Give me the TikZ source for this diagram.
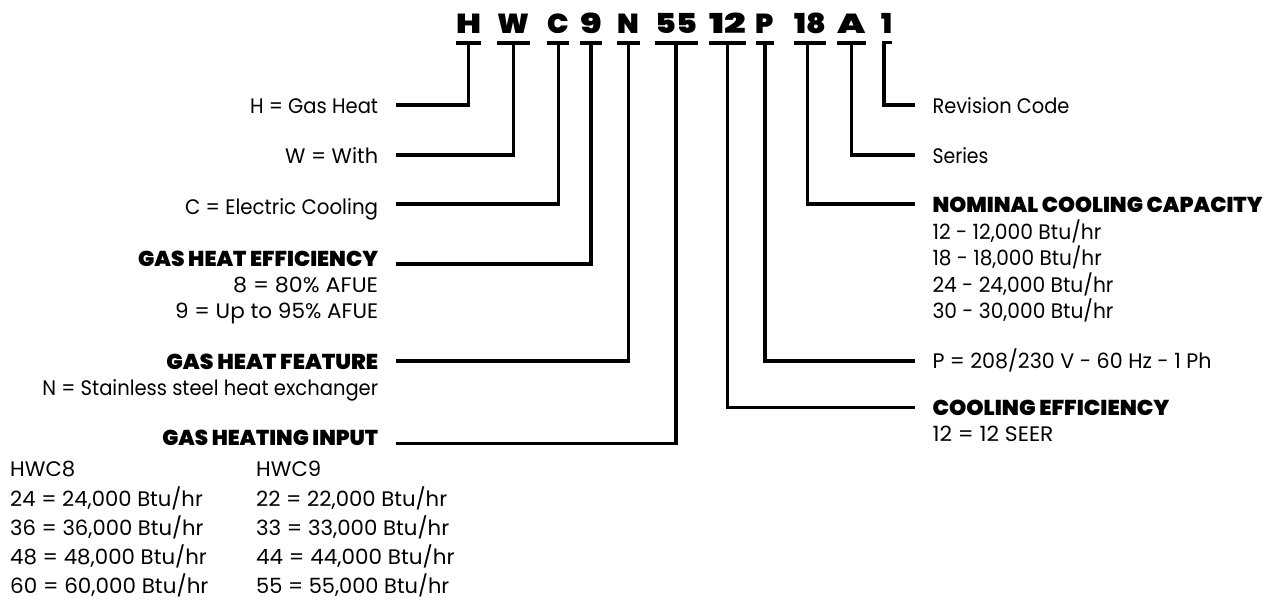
\documentclass[tikz,border=0pt]{standalone}
\usepackage{fontspec}
\usepackage{graphicx}
\setmainfont{Poppins}[Numbers=Proportional]
\IfFontExistsTF{Poppins Black}
  {\newfontfamily\blkfont{Poppins Black}[Numbers=Proportional]}
  {\IfFontExistsTF{Poppins ExtraBold}
    {\newfontfamily\blkfont{Poppins ExtraBold}[Numbers=Proportional]}
    {\newfontfamily\blkfontX{Poppins}[Numbers=Proportional]\newcommand\blkfont{\blkfontX\bfseries}}}
\newsavebox\fitbox
\newcommand\fitto[2]{\sbox\fitbox{#2}\pgfmathsetmacro\fitfac{#1/\the\wd\fitbox}\scalebox{\fitfac}[1]{\usebox\fitbox}}
\tikzset{
  reg/.style={inner sep=0pt, font=\fontsize{21}{25}\selectfont},
  ttl/.style={inner sep=0pt, font=\blkfont\fontsize{21.5}{25}\selectfont},
  code/.style={inner sep=0pt, anchor=base, font=\blkfont\fontsize{27.5}{30}\selectfont},
  conn/.style={line width=3.3pt, draw=black},
  bar/.style={line width=3.5pt, draw=black},
  lft/.style={anchor=base east},
  rgt/.style={anchor=base west}
}
\begin{document}
\begin{tikzpicture}[x=1pt,y=-1pt]
\useasboundingbox (0,0) rectangle (1273,601);
\fill[white] (0,0) rectangle (1273,601);

% code letters
\node[code] (cH) at (468.5,33.3) {\fitto{25}{H}};
\node[code] (cW) at (513.3,33.3) {\fitto{32}{W}};
\node[code] (cC) at (558,33.3) {\fitto{21.5}{C}};
\node[code] (c9) at (591,33.3) {\fitto{21.5}{9}};
\node[code] (cN) at (628.5,33.3) {\fitto{21.7}{N}};
\node[code] (c55) at (676.5,33.3) {\fitto{41.7}{55}};
\node[code] (c12) at (727.5,33.3) {\fitto{36.7}{12}};
\node[code] (cP) at (765,33.3) {\fitto{18.3}{P}};
\node[code] (c18) at (810,33.3) {\fitto{31.7}{18}};
\node[code] (cA) at (851.7,33.3) {\fitto{28.3}{A}};
\node[code] (c1) at (887,33.3) {\fitto{11}{1}};

\foreach \n in {cH,cW,cC,c9,cN,c55,c12,cP,c18,cA}
  \draw[bar] ([yshift=-9.4pt]\n.south west) -- ([yshift=-9.4pt]\n.south east);
\coordinate (b1a) at (882,42.7);
\coordinate (b1b) at (892,42.7);
\draw[bar] (b1a) -- (b1b);

% connector coordinates
\coordinate (vH) at (468.3,42.7);  \coordinate (eH) at (396,105);
\coordinate (vW) at (513.3,42.7);  \coordinate (eW) at (396,155);
\coordinate (vC) at (558.3,42.7);  \coordinate (eC) at (396,204);
\coordinate (v9) at (591,42.7);    \coordinate (e9) at (396,264);
\coordinate (vN) at (628.3,42.7);  \coordinate (eN) at (396,361);
\coordinate (v55) at (676,42.7);   \coordinate (e55) at (396,443.3);
\coordinate (v1) at (884,42.7);    \coordinate (e1) at (915,105);
\coordinate (vA) at (851.7,42.7);  \coordinate (eA) at (915,155);
\coordinate (v18) at (807.5,42.7); \coordinate (e18) at (915,204);
\coordinate (vP) at (765,42.7);    \coordinate (eP) at (915,361);
\coordinate (v12) at (727.7,42.7); \coordinate (e12) at (915,407.7);

\foreach \k in {H,W,C,9,N,55,1,A,18,P,12}
  \draw[conn] (v\k) |- (e\k);

% left labels
\node[reg,lft] (lH) at (378.3,113.3) {\fitto{128}{H = Gas Heat}};
\node[reg,lft] (lW) at (378.3,163.3) {\fitto{93}{W = With}};
\node[reg,lft] (lC) at (378.3,215) {\fitto{193}{C = Electric Cooling}};
\node[ttl,lft] (l9) at (378.3,267) {\fitto{240}{GAS HEAT EFFICIENCY}};
\node[reg,lft] (l9a) at (378.3,293) {\fitto{145}{8 = 80\% AFUE}};
\node[reg,lft] (l9b) at (378.3,318) {\fitto{203}{9 = Up to 95\% AFUE}};
\node[ttl,lft] (lN) at (378.3,369) {\fitto{211.7}{GAS HEAT FEATURE}};
\node[reg,lft] (lNa) at (378.3,395) {\fitto{335.7}{N = Stainless steel heat exchanger}};
\node[ttl,lft] (l55) at (378.3,445.5) {\fitto{215.7}{GAS HEATING INPUT}};

% table
\node[reg,rgt] (t8) at (10,476.7) {\fitto{65}{HWC8}};
\node[reg,rgt] (t8a) at (10,506.7) {\fitto{192.7}{24 = 24,000 Btu/hr}};
\node[reg,rgt] (t8b) at (10,535) {\fitto{193.3}{36 = 36,000 Btu/hr}};
\node[reg,rgt] (t8c) at (10,564) {\fitto{196.7}{48 = 48,000 Btu/hr}};
\node[reg,rgt] (t8d) at (10,593) {\fitto{198.3}{60 = 60,000 Btu/hr}};
\node[reg,rgt] (t9) at (256,476.7) {\fitto{65}{HWC9}};
\node[reg,rgt] (t9a) at (256,506.7) {\fitto{191}{22 = 22,000 Btu/hr}};
\node[reg,rgt] (t9b) at (256,535) {\fitto{193}{33 = 33,000 Btu/hr}};
\node[reg,rgt] (t9c) at (256,564) {\fitto{198.5}{44 = 44,000 Btu/hr}};
\node[reg,rgt] (t9d) at (256,593) {\fitto{193}{55 = 55,000 Btu/hr}};

% right labels
\node[reg,rgt] (rR) at (932.3,113.3) {\fitto{137}{Revision Code}};
\node[reg,rgt] (rA) at (932.3,164) {\fitto{56}{Series}};
\node[ttl,rgt] (r18) at (932.3,213) {\fitto{330}{NOMINAL COOLING CAPACITY}};
\node[reg,rgt] (r18a) at (932.3,239.5) {\fitto{169}{12 - 12,000 Btu/hr}};
\node[reg,rgt] (r18b) at (932.3,266) {\fitto{169.3}{18 - 18,000 Btu/hr}};
\node[reg,rgt] (r18c) at (932.3,292.5) {\fitto{181}{24 - 24,000 Btu/hr}};
\node[reg,rgt] (r18d) at (932.3,319) {\fitto{181}{30 - 30,000 Btu/hr}};
\node[reg,rgt] (rP) at (932.3,368) {\fitto{279}{P = 208/230 V - 60 Hz - 1 Ph}};
\node[ttl,rgt] (r12) at (932.3,415) {\fitto{237}{COOLING EFFICIENCY}};
\node[reg,rgt] (r12a) at (932.3,441.7) {\fitto{121}{12 = 12 SEER}};
\end{tikzpicture}
\end{document}
